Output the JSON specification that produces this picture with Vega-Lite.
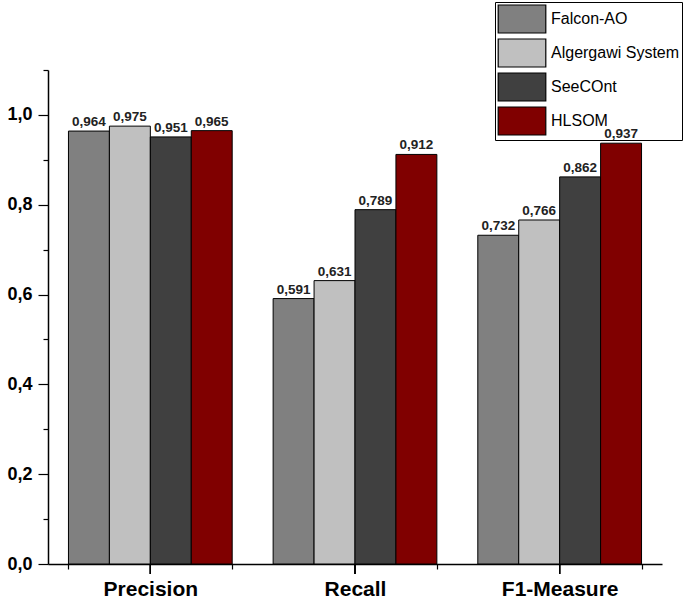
{
  "$schema": "https://vega.github.io/schema/vega-lite/v6.json",
  "width": 614,
  "height": 494,
  "autosize": {"type": "none"},
  "padding": {"left": 48, "top": 70, "right": 23, "bottom": 36},
  "background": "white",
  "data": {
    "values": [
      {"metric": "Precision", "system": "Falcon-AO", "value": 0.964},
      {"metric": "Precision", "system": "Algergawi System", "value": 0.975},
      {"metric": "Precision", "system": "SeeCOnt", "value": 0.951},
      {"metric": "Precision", "system": "HLSOM", "value": 0.965},
      {"metric": "Recall", "system": "Falcon-AO", "value": 0.591},
      {"metric": "Recall", "system": "Algergawi System", "value": 0.631},
      {"metric": "Recall", "system": "SeeCOnt", "value": 0.789},
      {"metric": "Recall", "system": "HLSOM", "value": 0.912},
      {"metric": "F1-Measure", "system": "Falcon-AO", "value": 0.732},
      {"metric": "F1-Measure", "system": "Algergawi System", "value": 0.766},
      {"metric": "F1-Measure", "system": "SeeCOnt", "value": 0.862},
      {"metric": "F1-Measure", "system": "HLSOM", "value": 0.937}
    ]
  },
  "encoding": {
    "x": {
      "field": "metric",
      "type": "nominal",
      "sort": ["Precision", "Recall", "F1-Measure"],
      "scale": {"paddingInner": 0.2, "paddingOuter": 0.1},
      "axis": {
        "title": null,
        "labelAngle": 0,
        "labelFont": "Liberation Sans",
        "labelFontSize": 21,
        "labelFontWeight": "bold",
        "labelColor": "black",
        "labelPadding": 9,
        "tickBand": "extent",
        "tickSize": 5,
        "tickColor": "black",
        "tickWidth": 1.2,
        "domainColor": "black",
        "domainWidth": 1.5
      }
    },
    "y": {
      "field": "value",
      "type": "quantitative",
      "scale": {"domain": [0, 1.1], "nice": false},
      "axis": {
        "title": null,
        "grid": false,
        "values": [0, 0.1, 0.2, 0.3, 0.4, 0.5, 0.6, 0.7, 0.8, 0.9, 1.0, 1.1],
        "labelExpr": "(round(datum.value*10) % 2 == 0 && datum.value < 1.05) ? replace(format(datum.value, '.1f'), '.', ',') : ''",
        "tickSize": {"condition": {"test": "round(datum.value*10) % 2 == 0", "value": 10}, "value": 5},
        "labelFont": "Liberation Sans",
        "labelFontSize": 18,
        "labelFontWeight": "bold",
        "labelColor": "black",
        "labelPadding": 6,
        "tickColor": "black",
        "tickWidth": 1.2,
        "domainColor": "black",
        "domainWidth": 1.5
      }
    }
  },
  "layer": [
    {
      "mark": {"type": "bar", "stroke": "black", "strokeWidth": 1},
      "encoding": {
        "xOffset": {
          "field": "system",
          "type": "nominal",
          "sort": ["Falcon-AO", "Algergawi System", "SeeCOnt", "HLSOM"],
          "scale": {"paddingInner": 0, "paddingOuter": 0}
        },
        "color": {
          "field": "system",
          "type": "nominal",
          "scale": {
            "domain": ["Falcon-AO", "Algergawi System", "SeeCOnt", "HLSOM"],
            "range": ["#808080", "#c0c0c0", "#404040", "#800000"]
          },
          "legend": {
            "title": null,
            "orient": "none",
            "legendX": 447,
            "legendY": -68,
            "strokeColor": "black",
            "padding": 2,
            "symbolType": "M-1.7,-1H1.7V1H-1.7Z",
            "symbolSize": 784,
            "symbolOffset": 10,
            "symbolStrokeColor": "black",
            "symbolStrokeWidth": 1.2,
            "symbolOpacity": 1,
            "rowPadding": 0,
            "labelFont": "Liberation Sans",
            "labelFontSize": 16,
            "labelColor": "black",
            "labelOffset": 14,
            "labelLimit": 220
          }
        }
      }
    },
    {
      "mark": {
        "type": "text",
        "baseline": "bottom",
        "dy": -2,
        "font": "Liberation Sans",
        "fontSize": 13.5,
        "fontWeight": "bold",
        "color": "#222222"
      },
      "encoding": {
        "xOffset": {
          "field": "system",
          "type": "nominal",
          "sort": ["Falcon-AO", "Algergawi System", "SeeCOnt", "HLSOM"],
          "scale": {"paddingInner": 0, "paddingOuter": 0}
        },
        "text": {"field": "value", "type": "quantitative", "format": ".3f"}
      }
    },
    {
      "mark": {"type": "rule", "color": "black", "strokeWidth": 1.2, "clip": false},
      "encoding": {
        "y": {"datum": 0},
        "y2": {"datum": -0.0223}
      }
    }
  ],
  "config": {
    "view": {"stroke": null},
    "locale": {
      "number": {
        "decimal": ",",
        "thousands": ".",
        "grouping": [3],
        "currency": ["", ""]
      }
    }
  }
}
